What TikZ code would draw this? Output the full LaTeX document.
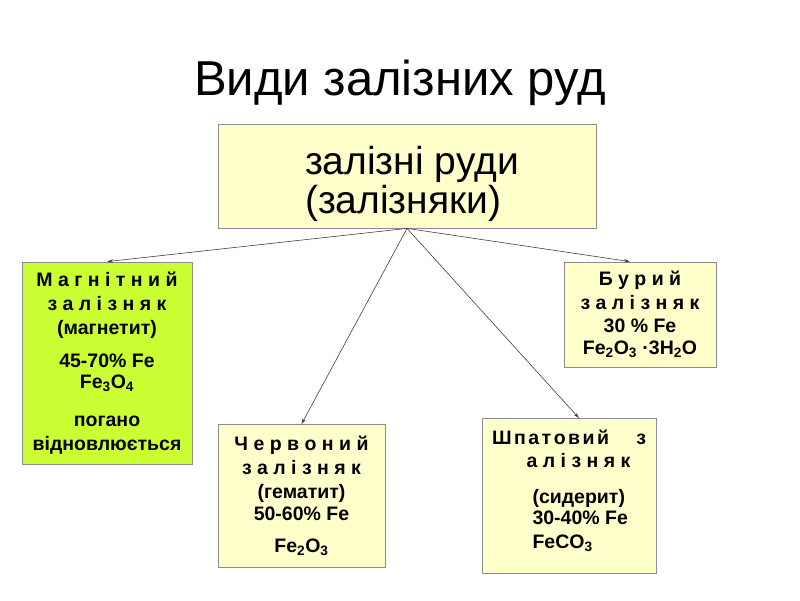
\documentclass[tikz,border=0pt]{standalone}
\usepackage{fontspec}
\setmainfont{Liberation Sans}
\usepackage{xcolor}
\usetikzlibrary{arrows.meta}

\definecolor{oreyellow}{RGB}{255,255,204}
\definecolor{oregreen}{RGB}{204,255,51}
\definecolor{oreborder}{RGB}{140,140,140}

\tikzset{
  orebox/.style={draw=oreborder, line width=0.8pt, fill=oreyellow,
    inner sep=0pt, align=center,
    font=\fontsize{19.5}{24}\selectfont\bfseries},
  orelink/.style={-{Stealth[length=6pt,width=3.5pt]}, line width=0.6pt,
    draw=black!75}
}

\begin{document}
\begin{tikzpicture}[x=1pt,y=-1pt]
      % Page frame
      \useasboundingbox (0,0) rectangle (800,600);

      % Title
      \node[anchor=base] (title) at (400,95)
        {\fontsize{49}{52}\selectfont Види залізних руд};

      % Main box
      \node[orebox, minimum width=378pt, minimum height=104pt, align=left,
            font=\fontsize{39}{39}\selectfont] (ores) at (407,176)
        {\hspace*{10pt}\rule{0pt}{44pt}залізні руди\\\hspace*{10pt}(залізняки)};

      % Magnetite
      \node[orebox, fill=oregreen, minimum width=170pt, minimum height=202pt]
        (magnetite) at (107,363)
        {М а г н і т н и й\\з а л і з н я к\\(магнетит)\\[9pt]
         45-70\% Fe\\[-3pt]Fe\textsubscript{3}O\textsubscript{4}\\[14pt]
         погано\\відновлюється};

      % Hematite
      \node[orebox, minimum width=167pt, minimum height=143pt]
        (hematite) at (301.5,496)
        {Ч е р в о н и й\\з а л і з н я к\\(гематит)\\[-2pt]50-60\% Fe\\[8pt]
         Fe\textsubscript{2}O\textsubscript{3}};

      % Siderite
      \node[orebox, minimum width=174pt, minimum height=155pt]
        (siderite) at (569,496)
        {\makebox[154pt]{\spaceskip=2.5pt Ш п а т о в и й\hfill з}\\[-1pt]
         \hspace*{19pt}а л і з н я к\\[12pt]
         \hspace*{23pt}\makebox[96pt][l]{(сидерит)}\\[-3pt]
         \hspace*{23pt}\makebox[96pt][l]{30-40\% Fe}\\[0pt]
         \hspace*{23pt}\makebox[96pt][l]{FeCO\textsubscript{3}}\rule[-14pt]{0pt}{1pt}};

      % Limonite
      \node[orebox, minimum width=152pt, minimum height=105pt]
        (limonite) at (640,314.5)
        {Б у р и й\\з а л і з н я к\\[-1pt]30 \% Fe\\[-2pt]
         Fe\textsubscript{2}O\textsubscript{3} ·3H\textsubscript{2}O};

      % Links
      \draw[orelink] (ores.south) -- (magnetite.north);
      \draw[orelink] (ores.south) -- (hematite.north);
      \draw[orelink] (ores.south) -- ([xshift=10pt]siderite.north);
      \draw[orelink] (ores.south) -- ([xshift=-10pt]limonite.north);

  \end{tikzpicture}
\end{document}
